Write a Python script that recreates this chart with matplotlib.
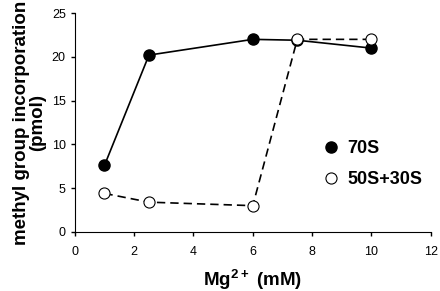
import matplotlib
matplotlib.use("Agg")
import matplotlib.pyplot as plt

plt.rcParams['font.family'] = ['Liberation Sans', 'DejaVu Sans']
plt.rcParams['mathtext.fontset'] = 'custom'
plt.rcParams['mathtext.rm'] = 'Liberation Sans'
plt.rcParams['mathtext.bf'] = 'Liberation Sans:bold'

x_70s = [1, 2.5, 6, 7.5, 10]
y_70s = [7.6, 20.2, 22.0, 21.9, 21.0]
x_sub = [1, 2.5, 6, 7.5, 10]
y_sub = [4.4, 3.4, 3.0, 22.0, 22.0]
xticks = [0, 2, 4, 6, 8, 10, 12]
yticks = [0, 5, 10, 15, 20, 25]

fig = plt.figure(figsize=(4.4, 2.91), dpi=100)
ax = fig.add_axes([0.170, 0.203, 0.809, 0.752])

ax.plot(x_70s, y_70s, '-', color='black', lw=1.2, marker='o', ms=8,
        mfc='black', mec='black', label='70S', zorder=3)
ax.plot(x_sub, y_sub, '--', color='black', lw=1.2, dashes=(5, 3), marker='o', ms=8,
        mfc='white', mec='black', mew=0.8, label='50S+30S', zorder=4)

ax.set_xlim(0, 12)
ax.set_ylim(0, 25)
ax.set_xticks(xticks)
ax.set_yticks(yticks)
ax.tick_params(direction='out', length=3, labelsize=9, width=1)
ax.tick_params(axis='x', pad=7)
for s in ['top', 'right']:
    ax.spines[s].set_visible(False)

ax.set_xlabel(r'Mg$^{\mathbf{2+}}$ (mM)', fontsize=13.5, fontweight='bold', labelpad=7)
ax.set_ylabel('methyl group incorporation\n(pmol)', fontsize=13.5, fontweight='bold',
              linespacing=0.95, labelpad=4)

leg = ax.legend(loc='center left', bbox_to_anchor=(0.655, 0.31), frameon=False,
                prop={'weight': 'bold', 'size': 13}, handlelength=0.8,
                handletextpad=0.5, labelspacing=0.75)
for h in leg.legend_handles:
    h.set_linestyle('none')

fig.savefig('out.png', dpi=100)
